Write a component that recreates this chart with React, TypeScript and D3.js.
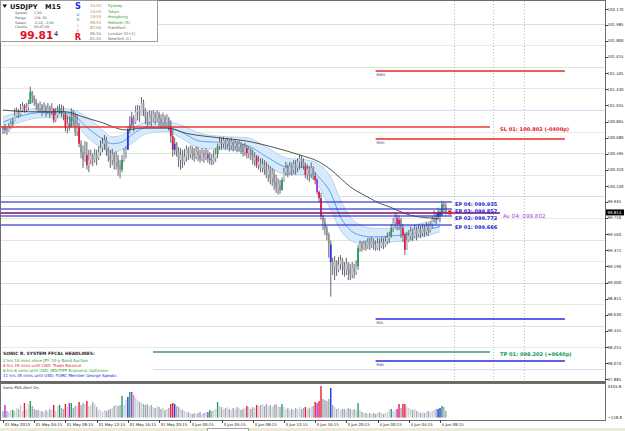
import { useEffect, useRef } from 'react';
import * as d3 from 'd3';

// ---------- price data (USDJPY M15, open of each bar = previous close) ----------
const firstOpen = 100.8;

const closes = [
  100.77, 100.79, 100.76, 100.81, 100.84, 100.87, 100.93, 100.98, 100.95, 101.0,
  101.05, 101.01, 101.03, 101.07, 101.21, 101.16, 101.1, 101.07, 101.02, 101.05,
  101.0, 101.03, 100.99, 101.02, 100.98, 101.01, 100.88, 100.94, 100.98, 101.02,
  100.99, 100.95, 100.79, 100.84, 100.8, 100.92, 100.88, 100.75, 100.8, 100.61,
  100.51, 100.42, 100.48, 100.36, 100.42, 100.47, 100.42, 100.48, 100.44, 100.51,
  100.56, 100.61, 100.65, 100.54, 100.47, 100.42, 100.48, 100.4, 100.44, 100.35,
  100.31, 100.42, 100.51, 100.54, 100.77, 100.83, 100.91, 100.86, 100.98, 101.0,
  100.94, 101.08, 101.0, 100.91, 100.86, 100.93, 100.9, 100.95, 100.91, 100.95,
  100.9, 100.86, 100.91, 100.85, 100.9, 100.81, 100.7, 100.54, 100.61, 100.51,
  100.42, 100.48, 100.4, 100.46, 100.54, 100.49, 100.55, 100.5, 100.46, 100.52,
  100.48, 100.43, 100.5, 100.46, 100.49, 100.44, 100.42, 100.4, 100.44, 100.49,
  100.58, 100.63, 100.61, 100.65, 100.61, 100.64, 100.59, 100.63, 100.58, 100.62,
  100.57, 100.61, 100.56, 100.51, 100.56, 100.5, 100.54, 100.48, 100.42, 100.46,
  100.36, 100.4, 100.33, 100.37, 100.31, 100.25, 100.31, 100.21, 100.26, 100.17,
  100.1, 100.13, 100.07, 100.19, 100.28, 100.33, 100.28, 100.35, 100.31, 100.37,
  100.33, 100.4, 100.44, 100.4, 100.35, 100.25, 100.31, 100.26, 100.33, 100.24,
  100.19, 100.05, 99.98, 99.77, 99.7, 99.63, 99.55, 99.44, 99.24, 99.19,
  99.24, 99.15, 99.21, 99.26, 99.19, 99.15, 99.22, 99.15, 99.1, 99.17,
  99.12, 99.19, 99.4, 99.44, 99.4, 99.45, 99.42, 99.47, 99.44, 99.48,
  99.44, 99.4, 99.46, 99.42, 99.47, 99.44, 99.48, 99.52, 99.54, 99.63,
  99.7, 99.75, 99.68, 99.73, 99.63, 99.55, 99.38, 99.49, 99.54, 99.59,
  99.54, 99.61, 99.56, 99.62, 99.58, 99.63, 99.59, 99.65, 99.61, 99.67,
  99.73, 99.79, 99.76, 99.82, 99.78, 99.91, 99.88, 99.814,
];

const highs = [
  100.81, 100.84, 100.8, 100.85, 100.88, 100.91, 101.02, 101.03, 101.01, 101.07,
  101.09, 101.07, 101.08, 101.12, 101.27, 101.22, 101.17, 101.13, 101.08, 101.1,
  101.07, 101.09, 101.06, 101.08, 101.05, 101.08, 101.02, 101.02, 101.05, 101.07,
  101.06, 101.05, 100.98, 100.94, 100.93, 101.02, 101.0, 100.97, 100.95, 100.85,
  100.65, 100.59, 100.64, 100.63, 100.54, 100.54, 100.5, 100.55, 100.54, 100.58,
  100.65, 100.68, 100.71, 100.69, 100.57, 100.54, 100.55, 100.51, 100.52, 100.48,
  100.42, 100.48, 100.56, 100.58, 100.81, 100.93, 100.98, 100.94, 101.05, 101.06,
  101.05, 101.15, 101.12, 101.02, 100.98, 101.0, 100.99, 101.0, 100.98, 101.0,
  100.98, 100.95, 100.97, 100.94, 100.95, 100.92, 100.88, 100.77, 100.68, 100.63,
  100.57, 100.56, 100.54, 100.55, 100.59, 100.57, 100.59, 100.58, 100.56, 100.58,
  100.57, 100.54, 100.56, 100.54, 100.56, 100.54, 100.51, 100.49, 100.54, 100.56,
  100.61, 100.69, 100.68, 100.69, 100.66, 100.68, 100.66, 100.68, 100.65, 100.66,
  100.64, 100.65, 100.63, 100.61, 100.62, 100.59, 100.58, 100.56, 100.54, 100.51,
  100.48, 100.47, 100.44, 100.44, 100.42, 100.4, 100.37, 100.35, 100.33, 100.31,
  100.25, 100.21, 100.19, 100.22, 100.33, 100.4, 100.37, 100.4, 100.39, 100.42,
  100.42, 100.44, 100.48, 100.47, 100.44, 100.39, 100.37, 100.35, 100.39, 100.35,
  100.28, 100.21, 100.07, 100.04, 99.79, 99.75, 99.66, 99.58, 99.49, 99.29,
  99.31, 99.26, 99.3, 99.32, 99.29, 99.24, 99.29, 99.24, 99.22, 99.24,
  99.22, 99.26, 99.44, 99.49, 99.48, 99.49, 99.49, 99.52, 99.52, 99.53,
  99.51, 99.49, 99.52, 99.51, 99.53, 99.52, 99.54, 99.58, 99.59, 99.68,
  99.75, 99.81, 99.79, 99.78, 99.75, 99.68, 99.58, 99.59, 99.61, 99.65,
  99.63, 99.67, 99.65, 99.67, 99.66, 99.68, 99.67, 99.7, 99.69, 99.71,
  99.77, 99.84, 99.82, 99.87, 99.85, 99.95, 99.93, 99.92,
];

const lows = [
  100.72, 100.73, 100.71, 100.75, 100.78, 100.81, 100.87, 100.92, 100.91, 100.93,
  100.98, 100.97, 100.98, 101.0, 101.07, 101.08, 101.05, 101.0, 100.97, 100.98,
  100.93, 100.97, 100.92, 100.95, 100.91, 100.94, 100.85, 100.86, 100.91, 100.95,
  100.92, 100.88, 100.75, 100.73, 100.76, 100.8, 100.81, 100.7, 100.7, 100.57,
  100.44, 100.33, 100.4, 100.31, 100.28, 100.37, 100.35, 100.39, 100.36, 100.42,
  100.47, 100.51, 100.54, 100.47, 100.4, 100.33, 100.36, 100.31, 100.31, 100.24,
  100.21, 100.28, 100.4, 100.44, 100.54, 100.73, 100.79, 100.75, 100.84, 100.88,
  100.86, 100.94, 100.93, 100.84, 100.8, 100.83, 100.81, 100.86, 100.83, 100.86,
  100.81, 100.79, 100.81, 100.79, 100.8, 100.76, 100.62, 100.46, 100.48, 100.46,
  100.34, 100.31, 100.33, 100.36, 100.4, 100.42, 100.44, 100.42, 100.4, 100.43,
  100.41, 100.39, 100.41, 100.39, 100.42, 100.39, 100.37, 100.36, 100.37, 100.4,
  100.44, 100.54, 100.54, 100.56, 100.54, 100.55, 100.52, 100.54, 100.52, 100.54,
  100.51, 100.52, 100.49, 100.46, 100.47, 100.44, 100.44, 100.42, 100.37, 100.35,
  100.33, 100.31, 100.28, 100.28, 100.25, 100.21, 100.17, 100.14, 100.12, 100.07,
  100.04, 100.02, 100.03, 100.07, 100.17, 100.24, 100.22, 100.25, 100.24, 100.26,
  100.25, 100.28, 100.31, 100.33, 100.31, 100.21, 100.19, 100.17, 100.21, 100.19,
  100.14, 100.02, 99.93, 99.73, 99.61, 99.55, 99.49, 99.29, 98.84, 99.09,
  99.03, 99.08, 99.12, 99.15, 99.09, 99.07, 99.09, 99.03, 99.03, 99.05,
  99.05, 99.09, 99.15, 99.36, 99.36, 99.38, 99.37, 99.39, 99.38, 99.4,
  99.38, 99.37, 99.38, 99.37, 99.4, 99.39, 99.41, 99.44, 99.46, 99.52,
  99.59, 99.63, 99.61, 99.61, 99.52, 99.47, 99.32, 99.38, 99.47, 99.49,
  99.48, 99.52, 99.49, 99.53, 99.52, 99.54, 99.53, 99.55, 99.54, 99.58,
  99.63, 99.7, 99.68, 99.73, 99.7, 99.77, 99.81, 99.79,
];

const volumes = [
  520, 1195, 520, 405, 630, 630, 520, 855, 745, 1195,
  520, 1420, 745, 1305, 1645, 1080, 745, 630, 630, 520,
  520, 405, 630, 520, 745, 630, 1195, 520, 1080, 1195,
  855, 745, 1305, 970, 1420, 1420, 855, 1080, 1080, 1530,
  1195, 1420, 1305, 1645, 1080, 1195, 1530, 1305, 970, 630,
  630, 405, 630, 520, 630, 745, 855, 1080, 1195, 1080,
  1195, 2210, 1195, 1760, 2100, 2660, 2660, 2320, 1985, 1760,
  1530, 1420, 1305, 1195, 1305, 1080, 1195, 970, 855, 1080,
  970, 745, 855, 630, 745, 855, 1305, 1420, 1305, 1080,
  970, 745, 630, 520, 405, 405, 290, 180, 290, 180,
  290, 405, 180, 290, 405, 405, 630, 520, 630, 745,
  1530, 1080, 970, 745, 855, 970, 745, 630, 855, 745,
  970, 855, 630, 745, 855, 1080, 970, 745, 970, 855,
  1195, 1080, 1195, 1305, 1080, 1305, 1080, 1195, 970, 1195,
  1305, 1080, 970, 1305, 970, 745, 855, 630, 745, 630,
  855, 745, 970, 745, 855, 970, 745, 855, 970, 1080,
  1530, 1420, 1645, 3330, 1870, 1760, 1645, 1870, 3110, 1195,
  970, 745, 855, 630, 745, 745, 630, 855, 745, 630,
  745, 630, 1420, 630, 405, 290, 290, 180, 290, 180,
  290, 180, 290, 405, 290, 180, 290, 405, 630, 745,
  520, 630, 745, 1305, 855, 1305, 1305, 970, 855, 745,
  630, 745, 520, 405, 290, 405, 290, 405, 520, 405,
  520, 630, 745, 745, 855, 1080, 970, 520,
];

// Sonic PVA flagged bars: [bar index, type]; all other bars are plain grey
const pvaBars: [number, string][] = [
  [1, 'purple'], [5, 'green'], [11, 'red'], [14, 'green'], [26, 'red'], [29, 'green'],
  [32, 'red'], [34, 'purple'], [35, 'green'], [39, 'red'], [43, 'red'], [61, 'green'],
  [64, 'blue'], [65, 'green'], [66, 'purple'], [86, 'red'], [87, 'red'], [88, 'blue'],
  [105, 'purple'], [106, 'green'], [110, 'green'], [125, 'red'], [130, 'red'], [143, 'green'],
  [155, 'red'], [160, 'red'], [161, 'purple'], [162, 'red'], [163, 'red'], [168, 'blue'],
  [182, 'green'], [199, 'green'], [202, 'purple'], [203, 'red'], [205, 'red'], [206, 'red'],
  [223, 'blue'], [224, 'blue'], [225, 'green'],
];

// slow moving average, read at a few bars
const slowMa: [number, number][] = [
  [0, 101.0], [14, 100.98], [32, 100.98], [41, 100.92], [50, 100.86], [63, 100.77],
  [71, 100.79], [84, 100.79], [94, 100.73], [110, 100.68], [125, 100.64], [140, 100.56],
  [152, 100.48], [162, 100.4], [168, 100.31], [173, 100.21], [178, 100.11], [183, 100.04],
  [188, 99.98], [193, 99.92], [198, 99.88], [203, 99.83], [209, 99.78], [214, 99.76],
  [219, 99.75], [223, 99.74],
];

// dragon band: [bar, upper, middle, lower]
const dragonBand: [number, number, number, number][] = [
  [0, 100.92, 100.86, 100.79], [9, 100.98, 100.93, 100.86], [19, 101.02, 100.97, 100.91],
  [29, 101.02, 100.97, 100.91], [36, 101.0, 100.94, 100.88], [43, 100.92, 100.8, 100.69],
  [50, 100.79, 100.68, 100.57], [56, 100.69, 100.61, 100.51], [61, 100.71, 100.63, 100.54],
  [67, 100.8, 100.73, 100.63], [74, 100.86, 100.8, 100.73], [84, 100.86, 100.8, 100.75],
  [91, 100.83, 100.75, 100.68], [101, 100.73, 100.64, 100.56], [115, 100.69, 100.62, 100.54],
  [125, 100.68, 100.59, 100.51], [135, 100.57, 100.46, 100.36], [146, 100.44, 100.34, 100.25],
  [156, 100.42, 100.34, 100.25], [162, 100.37, 100.22, 100.11], [168, 100.22, 100.04, 99.84],
  [173, 99.96, 99.76, 99.61], [178, 99.76, 99.61, 99.49], [183, 99.67, 99.55, 99.46],
  [190, 99.63, 99.53, 99.46], [198, 99.63, 99.54, 99.47], [207, 99.65, 99.56, 99.49],
  [215, 99.69, 99.6, 99.53], [224, 99.75, 99.65, 99.59],
];

const tickBars = [0, 16, 32, 48, 64, 80, 96, 112, 128, 144, 160, 176, 192, 208, 224];
const timeLabels = [
  '31 May 2013', '31 May 04:15', '31 May 08:15', '31 May 12:15', '31 May 16:15',
  '31 May 20:15', '3 Jun 00:15', '3 Jun 04:15', '3 Jun 08:15', '3 Jun 12:15',
  '3 Jun 16:15', '3 Jun 20:15', '4 Jun 00:15', '4 Jun 04:15', '4 Jun 08:15',
];

const priceTicks = [
  102.17, 101.985, 101.8, 101.615, 101.425, 101.24, 101.055, 100.865, 100.68, 100.495,
  100.31, 100.12, 99.935, 99.75, 99.56, 99.375, 99.19, 99.0, 98.815, 98.63,
  98.445, 98.255, 98.07, 97.885,
];
const gridLevels = [
  98.0, 98.25, 98.5, 98.75, 99.0, 99.25, 99.5, 99.75, 100.0,
  100.25, 100.5, 100.75, 101.0, 101.25, 101.5, 101.75, 102.0,
];

const rangeNames = ['RWH', 'RDH', 'RDL', 'RWL'];
const rangePrices = [101.452, 100.664, 98.58, 98.09];
const entryNames = ['EP 04', 'EP 03', 'EP 02', 'EP 01'];
const entryPrices = [99.935, 99.857, 99.772, 99.666];
const averagePrice = 99.802;
const stopLoss = 100.802;
const stopPips = '-0400p';
const takeProfit = 98.202;
const takePips = '+0640p';
const eventBars = [231, 251, 267];
const rangeStartBar = 191;
const rangeEndBar = 288;

const headlines = [
  '2 hrs 10 mins since JPY: 10-y Bond Auction',
  '6 hrs 35 mins until USD: Trade Balance',
  '8 hrs 6 mins until USD: IBD/TIPP Economic Optimism',
  '11 hrs 35 mins until USD: FOMC Member George Speaks',
];
const headlineImpact = ['low', 'high', 'low', 'medium'];

const infoLabels = ['Spread', 'Range', 'Swaps', 'Candle'];
const infoValues = ['2.00', '134, 61', '-0.10, -0.58', '00:07:09'];
const sessionTimes = ['15:55', '14:55', '13:55', '09:55', '07:55', '06:55', '01:55'];
const sessionNames = ['Sydney', 'Tokyo', 'Hongkong', 'Helsinki (S)', 'Frankfurt', 'London (G+1)', 'NewYork (L)'];
const sessionOpen = [true, true, true, true, false, false, false];

const volumeTop = 3334.8;
const volumeBottom = -158.8;

const FONT = 'DejaVu Sans, Verdana, sans-serif';

const pvaColor: Record<string, string> = {
  green: '#1fa35c',
  red: '#e41c3c',
  blue: '#2236e4',
  purple: '#b12fe2',
};

const gridColor = (p: number) => {
  const f = Math.round((p % 1) * 100);
  if (f === 0) return '#dadaf6';
  if (f === 50) return '#d3edd3';
  return '#ebebdc';
};

const App = () => {
  const ref = useRef<SVGSVGElement | null>(null);

  useEffect(() => {
    if (!ref.current) return;
    const svg = d3.select(ref.current);
    svg.selectAll('*').remove();

    const W = 625;
    const H = 431;
    const right = 605;
    const mainBottom = 381;
    const volTop = 383;
    const volBottom = 420;

    const x = d3.scaleLinear().domain([0, 224]).range([3, 440]);
    const y = d3.scaleLinear().domain([97.885, 102.17]).range([379, 9]);
    const vy = d3.scaleLinear().domain([volumeBottom, volumeTop]).range([417, 386]);
    const crisp = (v: number) => Math.round(v) + 0.5;
    const pva = new Map(pvaBars);

    svg.append('rect').attr('width', W).attr('height', H).attr('fill', '#fff');

    // ---- grid levels ----
    const grid = svg.append('g').attr('shape-rendering', 'crispEdges');
    gridLevels.forEach((p) => {
      grid.append('line')
        .attr('x1', 1).attr('x2', right)
        .attr('y1', crisp(y(p))).attr('y2', crisp(y(p)))
        .attr('stroke', gridColor(p));
    });
    eventBars.forEach((b) => {
      grid.append('line')
        .attr('x1', crisp(x(b))).attr('x2', crisp(x(b)))
        .attr('y1', 1).attr('y2', mainBottom)
        .attr('stroke', '#bdbdbd')
        .attr('stroke-dasharray', '1,2');
    });

    // ---- dragon band ----
    const area = d3.area<[number, number, number, number]>()
      .x((d) => x(d[0])).y0((d) => y(d[3])).y1((d) => y(d[1]))
      .curve(d3.curveMonotoneX);
    svg.append('path').attr('d', area(dragonBand) as string).attr('fill', '#d6eafb');
    [1, 3].forEach((k) => {
      const edge = d3.line<[number, number, number, number]>()
        .x((d) => x(d[0])).y((d) => y(d[k])).curve(d3.curveMonotoneX);
      svg.append('path').attr('d', edge(dragonBand) as string)
        .attr('fill', 'none').attr('stroke', '#b3d5f5').attr('stroke-width', 1);
    });
    const mid = d3.line<[number, number, number, number]>()
      .x((d) => x(d[0])).y((d) => y(d[2])).curve(d3.curveMonotoneX);
    svg.append('path').attr('d', mid(dragonBand) as string)
      .attr('fill', 'none').attr('stroke', '#3d8fe6').attr('stroke-width', 0.8);

    // ---- candles ----
    const candles = svg.append('g');
    closes.forEach((c, i) => {
      const o = i === 0 ? firstOpen : closes[i - 1];
      const hi = Math.max(highs[i], o, c);
      const lo = Math.min(lows[i], o, c);
      const flag = pva.get(i);
      const bull = c >= o;
      const body = flag ? pvaColor[flag] : bull ? '#c2c6ce' : '#8f939d';
      const cx = x(i);
      candles.append('line')
        .attr('x1', cx).attr('x2', cx)
        .attr('y1', y(hi)).attr('y2', y(lo))
        .attr('stroke', '#555563').attr('stroke-width', 0.9);
      const top = y(Math.max(o, c));
      const h = Math.max(1, Math.abs(y(o) - y(c)));
      candles.append('rect')
        .attr('x', cx - 0.9).attr('width', 1.8)
        .attr('y', top).attr('height', h)
        .attr('fill', body);
    });

    // ---- slow MA ----
    const maLine = d3.line<[number, number]>()
      .x((d) => x(d[0])).y((d) => y(d[1])).curve(d3.curveMonotoneX);
    svg.append('path').attr('d', maLine(slowMa) as string)
      .attr('fill', 'none').attr('stroke', '#2a2a2a').attr('stroke-width', 0.8);

    // ---- range levels ----
    const levels = svg.append('g');
    rangeNames.forEach((name, k) => {
      const py = Math.round(y(rangePrices[k]));
      const isHigh = k < 2;
      levels.append('rect')
        .attr('x', x(rangeStartBar)).attr('width', x(rangeEndBar) - x(rangeStartBar))
        .attr('y', py - 0.75).attr('height', 1.5)
        .attr('fill', isHigh ? '#ea2b25' : '#2b2be6');
      levels.append('text')
        .attr('x', x(rangeStartBar) + 1).attr('y', py + 4.6)
        .attr('font-family', FONT).attr('font-size', 3.6)
        .attr('fill', '#34347a').text(name);
    });

    const fmt = d3.format('07.3f');
    const labelX = 500;

    // stop loss
    levels.append('rect')
      .attr('x', 1).attr('width', 489)
      .attr('y', Math.round(y(stopLoss)) - 0.7).attr('height', 1.4)
      .attr('fill', '#ea2b25');
    levels.append('text')
      .attr('x', labelX).attr('y', y(stopLoss) + 4.2)
      .attr('font-family', FONT).attr('font-size', 5.1).attr('font-weight', 'bold')
      .attr('fill', '#e3202a')
      .text(`SL 01: ${fmt(stopLoss)} (${stopPips})`);

    // take profit
    levels.append('rect')
      .attr('x', 1).attr('width', 489)
      .attr('y', Math.round(y(takeProfit)) - 0.7).attr('height', 1.4)
      .attr('fill', '#2b9468');
    levels.append('text')
      .attr('x', labelX).attr('y', y(takeProfit) + 4.2)
      .attr('font-family', FONT).attr('font-size', 5.1).attr('font-weight', 'bold')
      .attr('fill', '#12985a')
      .text(`TP 01: ${fmt(takeProfit)} (${takePips})`);

    // average entry
    levels.append('rect')
      .attr('x', 1).attr('width', 499)
      .attr('y', Math.round(y(averagePrice)) - 0.8).attr('height', 1.6)
      .attr('fill', '#851c78');
    levels.append('text')
      .attr('x', 503).attr('y', y(averagePrice) + 4.6)
      .attr('font-family', FONT).attr('font-size', 5.6)
      .attr('fill', '#a83ed8')
      .text(`Av 04: ${fmt(averagePrice)}`);

    // entries
    entryNames.forEach((name, k) => {
      const py = Math.round(y(entryPrices[k]));
      levels.append('rect')
        .attr('x', 1).attr('width', 451)
        .attr('y', py - 0.6).attr('height', 1.2)
        .attr('fill', '#3434d0');
      levels.append('text')
        .attr('x', 455).attr('y', py + 4.4)
        .attr('font-family', FONT).attr('font-size', 5).attr('font-weight', 'bold')
        .attr('fill', '#2222d4')
        .text(`${name}: ${fmt(entryPrices[k])}`);
    });

    // current price marker
    svg.append('circle')
      .attr('cx', x(229)).attr('cy', y(closes[closes.length - 1]))
      .attr('r', 2.3).attr('fill', '#e42626');

    // ---- headlines box ----
    svg.append('rect')
      .attr('x', 1).attr('y', 348).attr('width', 152).attr('height', mainBottom - 349)
      .attr('fill', '#fff');
    svg.append('text')
      .attr('x', 3).attr('y', 354.8)
      .attr('font-family', FONT).attr('font-size', 4.4).attr('font-weight', 'bold')
      .attr('fill', '#2c2c2c')
      .text('SONIC R. SYSTEM FFCAL HEADLINES:');
    const impactColor: Record<string, string> = { low: '#12a028', high: '#e8143c', medium: '#1c1ce6' };
    headlines.forEach((t, k) => {
      svg.append('text')
        .attr('x', 3).attr('y', 361.5 + k * 5.1)
        .attr('font-family', FONT).attr('font-size', 4)
        .attr('fill', impactColor[headlineImpact[k]])
        .text(t);
    });

    // ---- volume panel ----
    const vol = svg.append('g');
    volumes.forEach((v, i) => {
      const o = i === 0 ? firstOpen : closes[i - 1];
      const flag = pva.get(i);
      const color = flag ? pvaColor[flag] : closes[i] >= o ? '#cdd1d8' : '#a2a8b2';
      vol.append('rect')
        .attr('x', x(i) - 0.7).attr('width', 1.4)
        .attr('y', vy(v)).attr('height', vy(0) - vy(v) + 2)
        .attr('fill', color);
    });
    svg.append('text')
      .attr('x', 3).attr('y', 389)
      .attr('font-family', FONT).attr('font-size', 3.8).attr('fill', '#222')
      .text('Sonic PVA   Alert On');

    // ---- frames ----
    const frame = svg.append('g').attr('shape-rendering', 'crispEdges');
    frame.append('rect')
      .attr('x', 0.5).attr('y', 0.5).attr('width', right - 0.5).attr('height', mainBottom - 0.5)
      .attr('fill', 'none').attr('stroke', '#6e6e6e');
    frame.append('rect')
      .attr('x', 0).attr('y', mainBottom).attr('width', right + 1).attr('height', volTop - mainBottom)
      .attr('fill', '#6a6a6a');
    frame.append('rect')
      .attr('x', 0.5).attr('y', volTop + 0.5).attr('width', right - 0.5).attr('height', volBottom - volTop - 0.5)
      .attr('fill', 'none').attr('stroke', '#6e6e6e');

    // price axis
    priceTicks.forEach((p) => {
      const py = y(p);
      frame.append('line')
        .attr('x1', right).attr('x2', right + 3)
        .attr('y1', crisp(py)).attr('y2', crisp(py))
        .attr('stroke', '#444');
      svg.append('text')
        .attr('x', 607.5).attr('y', py + 1.5)
        .attr('font-family', FONT).attr('font-size', 3.9).attr('fill', '#1c1c1c')
        .text(d3.format('.3f')(p));
    });
    const last = closes[closes.length - 1];
    svg.append('rect')
      .attr('x', 606).attr('y', y(last) - 3).attr('width', 18).attr('height', 6)
      .attr('fill', '#000');
    svg.append('text')
      .attr('x', 607.5).attr('y', y(last) + 1.6)
      .attr('font-family', FONT).attr('font-size', 3.9).attr('fill', '#fff')
      .text(d3.format('.3f')(last));

    // volume axis
    [volumeTop, volumeBottom].forEach((v) => {
      svg.append('text')
        .attr('x', 607.5).attr('y', vy(v) + 1.5)
        .attr('font-family', FONT).attr('font-size', 3.9).attr('fill', '#1c1c1c')
        .text(d3.format('.1f')(v));
    });

    // time axis
    tickBars.forEach((b, k) => {
      const tx = crisp(x(b));
      frame.append('line')
        .attr('x1', tx).attr('x2', tx)
        .attr('y1', volBottom).attr('y2', volBottom + 3)
        .attr('stroke', '#444');
      svg.append('text')
        .attr('x', tx + 1).attr('y', 426)
        .attr('font-family', FONT).attr('font-size', 3.9).attr('fill', '#1c1c1c')
        .text(timeLabels[k]);
    });

    // bottom strip with tab
    frame.append('rect').attr('x', 0).attr('y', 428).attr('width', W).attr('height', 3).attr('fill', '#ece9d8');
    frame.append('rect').attr('x', 207.5).attr('y', 428.5).attr('width', 41).attr('height', 3)
      .attr('fill', '#fff').attr('stroke', '#a0a0a0');

    // ---- info panel ----
    const info = svg.append('g');
    info.append('rect')
      .attr('x', 0.5).attr('y', 0.5).attr('width', 157).attr('height', 40.5)
      .attr('fill', '#fff').attr('stroke', '#9c9c9c').attr('shape-rendering', 'crispEdges');
    info.append('path').attr('d', 'M2.5,4.5 L7,4.5 L4.75,8 Z').attr('fill', '#111');
    info.append('text')
      .attr('x', 10).attr('y', 8.6)
      .attr('font-family', FONT).attr('font-size', 6.6).attr('font-weight', 'bold').attr('fill', '#111')
      .text('USDJPY');
    info.append('text')
      .attr('x', 45).attr('y', 8.6)
      .attr('font-family', FONT).attr('font-size', 6.6).attr('font-weight', 'bold').attr('fill', '#111')
      .text('M15');
    infoLabels.forEach((l, k) => {
      info.append('text')
        .attr('x', 15).attr('y', 14 + k * 4.8)
        .attr('font-family', FONT).attr('font-size', 3.4).attr('fill', '#555')
        .text(l);
      info.append('text')
        .attr('x', 34).attr('y', 14 + k * 4.8)
        .attr('font-family', FONT).attr('font-size', 3.4).attr('fill', '#555')
        .text(infoValues[k]);
    });
    const bid = d3.format('.3f')(last);
    info.append('text')
      .attr('x', 20).attr('y', 39.3)
      .attr('font-family', FONT).attr('font-size', 10.5).attr('font-weight', 'bold').attr('fill', '#e0101e')
      .text(bid.slice(0, -1));
    info.append('text')
      .attr('x', 54).attr('y', 35.5)
      .attr('font-family', FONT).attr('font-size', 6.5).attr('fill', '#111')
      .text(bid.slice(-1));

    const sonicLetters = ['S', 'o', 'n', 'i', 'c', 'R'];
    const sonicColors = ['#1b2ee6', '#3b4ad8', '#2b46c0', '#e0508a', '#e23a3a', '#e0101e'];
    const sonicY = [9, 16, 21.3, 26.6, 31.9, 39.5];
    sonicLetters.forEach((l, k) => {
      const big = k === 0 || k === 5;
      info.append('text')
        .attr('x', 78).attr('y', sonicY[k])
        .attr('text-anchor', 'middle')
        .attr('font-family', FONT).attr('font-size', big ? 8.2 : 4.6)
        .attr('font-weight', big ? 'bold' : 'normal')
        .attr('fill', sonicColors[k])
        .text(l);
    });

    sessionTimes.forEach((t, k) => {
      const ty = 7.4 + k * 5.45;
      info.append('text')
        .attr('x', 90).attr('y', ty)
        .attr('font-family', FONT).attr('font-size', 3.9)
        .attr('fill', sessionOpen[k] ? '#b2803e' : '#6a6a6a')
        .text(t);
      info.append('text')
        .attr('x', 108).attr('y', ty)
        .attr('font-family', FONT).attr('font-size', 3.9)
        .attr('fill', sessionOpen[k] ? '#20a02a' : '#6a6a6a')
        .text(sessionNames[k]);
    });
  }, []);

  return (
    <div style={{ position: 'fixed', left: 0, top: 0 }}>
      <svg ref={ref} width={625} height={431} style={{ display: 'block' }} />
    </div>
  );
};

export default App;
